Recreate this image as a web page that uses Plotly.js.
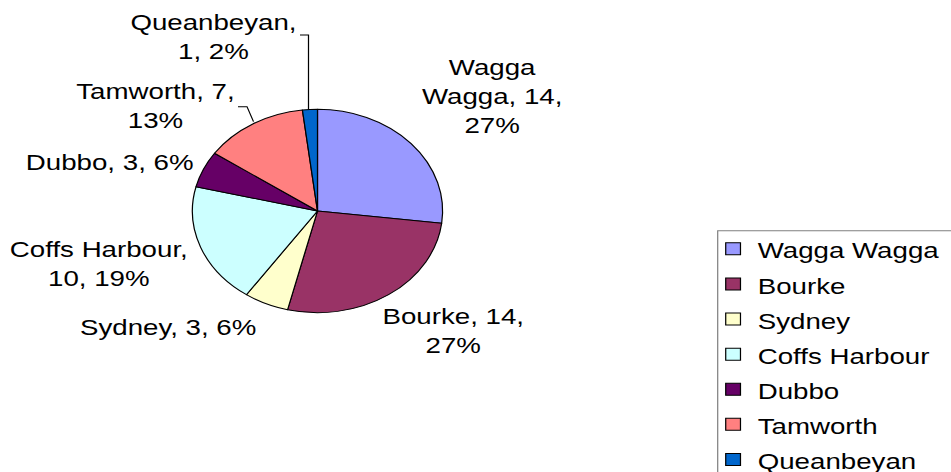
<!DOCTYPE html>
<html><head><meta charset="utf-8">
<script src="https://cdn.plot.ly/plotly-3.0.1.min.js"></script>
<style>
html,body{margin:0;padding:0;overflow:hidden;width:951px;height:472px;background:#fff}
#wrap{position:absolute;left:0;top:0;transform:scaleX(1.23);transform-origin:0 0}
#chart{width:820px;height:500px}
</style></head><body>
<div id="wrap"><div id="chart"></div></div>
<script>
// ---- data ----
const labels = ["Wagga Wagga", "Bourke", "Sydney", "Coffs Harbour", "Dubbo", "Tamworth", "Queanbeyan"];
const values = [14, 14, 3, 10, 3, 7, 1];
const colors = ["#9999FF", "#993366", "#FFFFCC", "#CCFFFF", "#660066", "#FF8080", "#0066CC"];

// ---- layout helpers (reference-pixel positions) ----
const SX = 1.23, W = 820, H = 500;
const px = x => x / SX / W;
const py = y => 1 - y / H;
const FONT = "Liberation Sans, Arial, sans-serif";
const FS = 22.5;

// words per wrapped line of each data label
const lineWords = [[1, 2, 1], [2, 1], [3], [2, 2], [3], [2, 1], [1, 2]];
// label centres
const labelPos = [[492, 97.4], [453.6, 330.7], [168.3, 327], [99.5, 264.2], [110, 162.7], [155, 105.8], [212.8, 36.7]];

const total = values.reduce((a, b) => a + b, 0);
function labelText(i) {
  const words = (labels[i] + ", " + values[i] + ", " + Math.round(values[i] / total * 100) + "%").split(" ");
  const lines = []; let k = 0;
  lineWords[i].forEach(n => { lines.push(words.slice(k, k + n).join(" ")); k += n; });
  return lines.join("<br>");
}

const cx = 317.5, cy = 211, r = 101.7;
const trace = {
  type: "pie",
  labels: labels.map(l => '<span style="font-size:' + FS + 'px">' + l + '</span>'),
  values: values,
  sort: false,
  direction: "clockwise",
  rotation: 0,
  textinfo: "none",
  hoverinfo: "skip",
  marker: { colors: colors, line: { color: "#000000", width: 1 } },
  domain: { x: [px(cx) - r / W, px(cx) + r / W], y: [py(cy) - r / H, py(cy) + r / H] }
};

const annotations = labels.map((l, i) => ({
  xref: "paper", yref: "paper", x: px(labelPos[i][0]), y: py(labelPos[i][1]),
  xanchor: "center", yanchor: "middle", showarrow: false, align: "center",
  text: labelText(i), font: { family: FONT, size: FS, color: "#000000" }
}));

function path(pts) { return pts.map((p, i) => (i ? "L" : "M") + px(p[0]) + "," + py(p[1])).join(" "); }
const shapes = [
  { type: "path", xref: "paper", yref: "paper", path: path([[300, 35], [308.5, 35], [308.5, 109.5]]), line: { color: "#000", width: 1 } },
  { type: "path", xref: "paper", yref: "paper", path: path([[238, 106.7], [247, 106.7], [253.5, 121.7]]), line: { color: "#000", width: 1 } },
  { type: "rect", xref: "paper", yref: "paper", x0: px(717.7), x1: 1, y0: py(230.7), y1: 0, line: { color: "#808080", width: 1 }, fillcolor: "rgba(0,0,0,0)" }
];

const layout = {
  width: W, height: H,
  margin: { l: 0, r: 0, t: 0, b: 0, pad: 0 },
  paper_bgcolor: "#ffffff",
  showlegend: true,
  legend: {
    x: px(708.5), y: py(226.25), xanchor: "left", yanchor: "top",
    bgcolor: "rgba(0,0,0,0)", borderwidth: 0,
    font: { family: FONT, size: 24.7, color: "#000000" }
  },
  annotations: annotations,
  shapes: shapes
};

Plotly.newPlot("chart", [trace], layout, { staticPlot: true, displayModeBar: false });
</script>
</body></html>
